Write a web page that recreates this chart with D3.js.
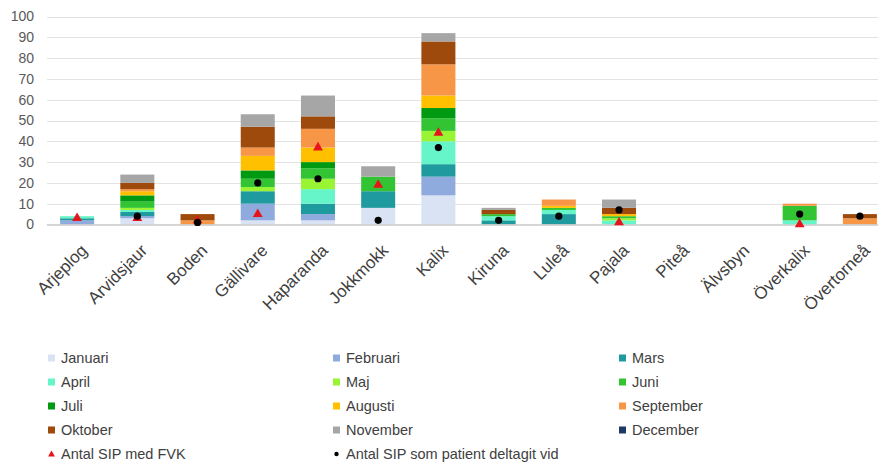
<!DOCTYPE html>
<html>
<head>
<meta charset="utf-8">
<script src="https://cdn.jsdelivr.net/npm/d3@7"></script>
<style>
  html, body { margin: 0; padding: 0; background: #fff; }
  svg { display: block; font-family: "Liberation Sans", Arial, sans-serif; }
</style>
</head>
<body>
<svg id="chart" width="878" height="466"></svg>
<script>
// Kommuner
const kommuner = ["Arjeplog","Arvidsjaur","Boden","Gällivare","Haparanda","Jokkmokk","Kalix","Kiruna","Luleå","Pajala","Piteå","Älvsbyn","Överkalix","Övertorneå"];

// Antal SIP per månad och kommun
const januari   = [0, 3, 0, 2, 2, 8, 14, 0, 0, 0, 0, 0, 0, 0];
const februari  = [2, 1, 0, 8, 3, 0, 9, 0, 0, 0, 0, 0, 0, 0];
const mars      = [1, 2, 0, 6, 5, 8, 6, 2, 5, 0, 0, 0, 0, 0];
const april     = [1, 1, 0, 0, 7, 0, 11, 2, 2, 2, 0, 0, 2, 0];
const maj       = [0, 1, 0, 2, 5, 0, 5, 0, 0, 1, 0, 0, 0, 0];
const juni      = [0, 3, 0, 4, 5, 7, 6, 1, 1, 1, 0, 0, 7, 0];
const juli      = [0, 3, 0, 4, 3, 0, 5, 0, 0, 0, 0, 0, 0, 0];
const augusti   = [0, 2, 0, 7, 7, 0, 6, 0, 1, 1, 0, 0, 0, 0];
const september = [0, 1, 2, 4, 9, 0, 15, 0, 3, 0, 0, 0, 1, 3];
const oktober   = [0, 3, 3, 10, 6, 0, 11, 2, 0, 3, 0, 0, 0, 2];
const november  = [0, 4, 0, 6, 10, 5, 4, 1, 0, 4, 0, 0, 0, 0];
const december  = [0, 0, 0, 0, 0, 0, 0, 0, 0, 0, 0, 0, 0, 0];

// Punktserier
const sipMedFVK        = [3, 3, 2, 5, 37, 19, 44, null, null, 1, null, null, 0, null];
const sipPatientDeltog = [null, 4, 1, 20, 22, 2, 37, 2, 4, 7, null, null, 5, 4];

const yTicks = [0, 10, 20, 30, 40, 50, 60, 70, 80, 90, 100];

const months = [
  { key: "Januari",   values: januari,   color: "#dae3f3" },
  { key: "Februari",  values: februari,  color: "#8faadc" },
  { key: "Mars",      values: mars,      color: "#1f9a9f" },
  { key: "April",     values: april,     color: "#66f5c8" },
  { key: "Maj",       values: maj,       color: "#99f533" },
  { key: "Juni",      values: juni,      color: "#33c433" },
  { key: "Juli",      values: juli,      color: "#009a12" },
  { key: "Augusti",   values: augusti,   color: "#ffc000" },
  { key: "September", values: september, color: "#f79646" },
  { key: "Oktober",   values: oktober,   color: "#9e4a0c" },
  { key: "November",  values: november,  color: "#a6a6a6" },
  { key: "December",  values: december,  color: "#1f3864" }
];

const table = kommuner.map((k, i) => {
  const row = { kommun: k };
  months.forEach(m => row[m.key] = m.values[i]);
  return row;
});

const svg = d3.select("#chart");

const x = d3.scaleBand()
  .domain(kommuner)
  .range([47, 890])
  .paddingInner(0.435)
  .paddingOuter(0.2175);

const y = d3.scaleLinear().domain([0, 100]).range([224.5, 16.5]);

// Stödlinjer
svg.append("g")
  .selectAll("line")
  .data(yTicks.filter(t => t > 0))
  .join("line")
  .attr("x1", 47).attr("x2", 878)
  .attr("y1", d => Math.round(y(d)) + 0.5)
  .attr("y2", d => Math.round(y(d)) + 0.5)
  .attr("stroke", "#e3e3e3")
  .attr("stroke-width", 1.2);

// Y-axel
const yAxis = svg.append("g")
  .attr("transform", "translate(47,0)")
  .call(d3.axisLeft(y).tickValues(yTicks).tickSize(0).tickPadding(13));
yAxis.select(".domain").remove();
yAxis.selectAll("text")
  .attr("fill", "#595959")
  .style("font-size", "14px");

// Staplade månader
const stack = d3.stack().keys(months.map(m => m.key));
const series = stack(table);

svg.append("g")
  .selectAll("g")
  .data(series)
  .join("g")
  .attr("fill", (d, i) => months[i].color)
  .selectAll("rect")
  .data(d => d.filter(s => s[1] - s[0] > 0))
  .join("rect")
  .attr("x", d => x(d.data.kommun))
  .attr("width", x.bandwidth())
  .attr("y", d => y(d[1]))
  .attr("height", d => y(d[0]) - y(d[1]));

// X-axel
const xAxis = svg.append("g")
  .attr("transform", `translate(0,${y(0)})`)
  .call(d3.axisBottom(x).tickSize(0).tickPadding(0));
xAxis.select(".domain")
  .attr("stroke", "#c8c8c8")
  .attr("stroke-width", 1.5)
  .attr("d", "M47,0.5H878");
xAxis.selectAll("text")
  .attr("fill", "#404040")
  .style("font-size", "17px")
  .attr("text-anchor", "end")
  .attr("dy", null)
  .attr("transform", "translate(11,27) rotate(-45)");

// Antal SIP med FVK (röda trianglar)
const tri = d3.symbol().type(d3.symbolTriangle).size(42);
svg.append("g")
  .selectAll("path")
  .data(kommuner.map((k, i) => ({ k, v: sipMedFVK[i] })).filter(d => d.v != null))
  .join("path")
  .attr("d", tri)
  .attr("fill", "#e8141b")
  .attr("transform", d => `translate(${x(d.k) + x.bandwidth() / 2},${y(d.v)})`);

// Antal SIP som patient deltagit vid (svarta punkter)
svg.append("g")
  .selectAll("circle")
  .data(kommuner.map((k, i) => ({ k, v: sipPatientDeltog[i] })).filter(d => d.v != null))
  .join("circle")
  .attr("cx", d => x(d.k) + x.bandwidth() / 2)
  .attr("cy", d => y(d.v))
  .attr("r", 3.6)
  .attr("fill", "#000");

// Teckenförklaring
const legendItems = months.map(m => ({ label: m.key, type: "rect", color: m.color }))
  .concat([
    { label: "Antal SIP med FVK", type: "tri", color: "#e8141b" },
    { label: "Antal SIP som patient deltagit vid", type: "dot", color: "#000" }
  ]);

const colX = [48, 333, 619];
const rowY = [358, 382, 406, 430, 454];

const legend = svg.append("g").selectAll("g")
  .data(legendItems)
  .join("g")
  .attr("transform", (d, i) => `translate(${colX[i % 3]},${rowY[Math.floor(i / 3)]})`);

legend.filter(d => d.type === "rect").append("rect")
  .attr("x", 0).attr("y", -3.5).attr("width", 7).attr("height", 7)
  .attr("fill", d => d.color);
legend.filter(d => d.type === "tri").append("path")
  .attr("d", d3.symbol().type(d3.symbolTriangle).size(20))
  .attr("transform", "translate(3.5,0.5)")
  .attr("fill", d => d.color);
legend.filter(d => d.type === "dot").append("circle")
  .attr("cx", 3.5).attr("cy", 0).attr("r", 2.2)
  .attr("fill", d => d.color);

legend.append("text")
  .attr("x", 13)
  .attr("y", 0)
  .attr("dy", "0.35em")
  .attr("fill", "#404040")
  .style("font-size", "14.5px")
  .text(d => d.label);
</script>
</body>
</html>
